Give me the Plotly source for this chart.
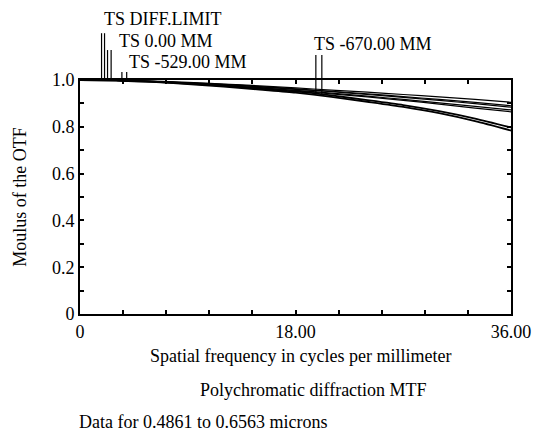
import numpy as np
import plotly.graph_objects as go

freq = [0, 3, 6, 9, 12, 15, 18, 21, 24, 27, 30, 33, 36]
diff_limit = [1.0, 0.998, 0.995, 0.990, 0.983, 0.975, 0.966, 0.957, 0.948, 0.938, 0.928, 0.917, 0.905]
f0_t = [1.0, 0.998, 0.994, 0.988, 0.981, 0.972, 0.962, 0.952, 0.941, 0.929, 0.917, 0.904, 0.890]
f0_s = [1.0, 0.998, 0.994, 0.987, 0.980, 0.971, 0.960, 0.950, 0.938, 0.926, 0.913, 0.899, 0.884]
f529_t = [1.0, 0.998, 0.993, 0.986, 0.977, 0.967, 0.956, 0.944, 0.931, 0.917, 0.902, 0.887, 0.872]
f529_s = [1.0, 0.998, 0.993, 0.985, 0.976, 0.966, 0.954, 0.941, 0.928, 0.913, 0.897, 0.880, 0.864]
f670_t = [1.0, 0.998, 0.993, 0.985, 0.975, 0.963, 0.951, 0.934, 0.914, 0.893, 0.867, 0.835, 0.797]
f670_s = [1.0, 0.997, 0.992, 0.983, 0.972, 0.959, 0.946, 0.928, 0.907, 0.885, 0.858, 0.824, 0.784]

labels = ["TS DIFF.LIMIT", "TS 0.00 MM", "TS -529.00 MM", "TS -670.00 MM"]
label_x = [1.8, 3.1, 3.9, 19.4]
label_y = [1.26, 1.167, 1.077, 1.154]
marker_x = [[1.8, 2.05], [2.3, 2.6], [3.5, 3.9], [19.7, 20.2]]
marker_top = [1.20, 1.128, 1.034, 1.107]

xticks = [0, 3.6, 7.2, 10.8, 14.4, 18, 21.6, 25.2, 28.8, 32.4, 36]
xticktext = ["0", "", "", "", "", "18.00", "", "", "", "", "36.00"]
yticks = [0, 0.1, 0.2, 0.3, 0.4, 0.5, 0.6, 0.7, 0.8, 0.9, 1.0]
yticktext = ["0", "", "0.2", "", "0.4", "", "0.6", "", "0.8", "", "1.0"]

FONT = "Liberation Serif"
fig = go.Figure()
series = [(diff_limit, 1.2), (f0_t, 1.2), (f0_s, 1.2), (f529_t, 1.2), (f529_s, 1.2), (f670_t, 1.8), (f670_s, 1.8)]
for vals, w in series:
    fig.add_trace(go.Scatter(x=freq, y=vals, mode="lines", line=dict(color="black", width=w, shape="spline", smoothing=0.6),
                             showlegend=False, hoverinfo="skip"))

curve_sets = [[diff_limit, diff_limit], [f0_t, f0_s], [f529_t, f529_s], [f670_t, f670_s]]
shapes = []
for xs, top, curves in zip(marker_x, marker_top, curve_sets):
    for xv, cv in zip(xs, curves):
        yb = float(np.interp(xv, freq, cv))
        shapes.append(dict(type="line", xref="x", yref="paper", x0=xv, x1=xv, y0=yb, y1=top, line=dict(color="black", width=1.2)))

annotations = []
for t, lx, ly in zip(labels, label_x, label_y):
    annotations.append(dict(text=t, xref="x", yref="paper", x=lx, y=ly, xanchor="left", yanchor="middle", showarrow=False, font=dict(family=FONT, size=18, color="black")))

annotations += [
    dict(text="Spatial frequency in cycles per millimeter", xref="paper", yref="paper", x=0.512, y=-0.179, xanchor="center", yanchor="middle", showarrow=False, font=dict(family=FONT, size=18, color="black")),
    dict(text="Polychromatic diffraction MTF", xref="paper", yref="paper", x=0.542, y=-0.325, xanchor="center", yanchor="middle", showarrow=False, font=dict(family=FONT, size=18, color="black")),
    dict(text="Data for 0.4861 to 0.6563 microns", xref="paper", yref="paper", x=-0.007, y=-0.462, xanchor="left", yanchor="middle", showarrow=False, font=dict(family=FONT, size=18, color="black")),
    dict(text="Moulus of the OTF", xref="paper", yref="paper", x=-0.14, y=0.5, xanchor="center", yanchor="middle", textangle=-90, showarrow=False, font=dict(family=FONT, size=18, color="black")),
]

fig.update_layout(
    width=535, height=423,
    margin=dict(l=72, r=20, t=72, b=117),
    paper_bgcolor="white", plot_bgcolor="white",
    shapes=shapes, annotations=annotations,
    font=dict(family=FONT, size=18, color="black"),
)
fig.update_xaxes(range=[0, 36], tickvals=xticks, ticktext=xticktext, ticks="inside", ticklen=4, tickwidth=1.5, tickcolor="black",
                 showline=True, linecolor="black", linewidth=2, mirror="allticks", showgrid=False, zeroline=False,
                 ticklabeloverflow="allow", tickfont=dict(family=FONT, size=18, color="black"))
fig.update_yaxes(range=[0, 1], tickvals=yticks, ticktext=yticktext, ticks="inside", ticklen=4, tickwidth=1.5, tickcolor="black",
                 showline=True, linecolor="black", linewidth=2, mirror="allticks", showgrid=False, zeroline=False,
                 ticklabeloverflow="allow", tickfont=dict(family=FONT, size=18, color="black"))

fig.write_html("out.html")
